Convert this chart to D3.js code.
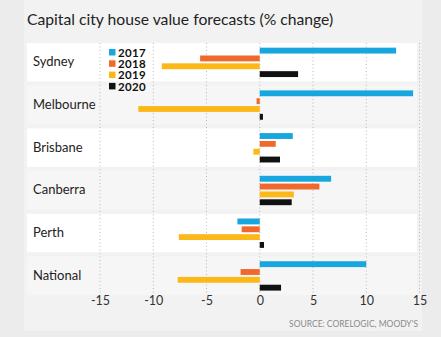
<!DOCTYPE html>
<html>
<head>
<meta charset="utf-8">
<script src="https://cdn.jsdelivr.net/npm/d3@7/dist/d3.min.js"></script>
<style>
  html, body { margin: 0; padding: 0; background: #ececec; }
  svg { display: block; }
</style>
</head>
<body>
<svg id="chart" width="441" height="337"></svg>
<script>
// Capital city house value forecasts, % change by year
const cities = ["Sydney", "Melbourne", "Brisbane", "Canberra", "Perth", "National"];
const years = ["2017", "2018", "2019", "2020"];
const v2017 = [12.8, 14.4, 3.1, 6.7, -2.1, 10.0];
const v2018 = [-5.6, -0.3, 1.5, 5.6, -1.7, -1.8];
const v2019 = [-9.2, -11.4, -0.6, 3.2, -7.6, -7.7];
const v2020 = [3.6, 0.3, 1.9, 3.0, 0.4, 2.0];
const tickValues = [-15, -10, -5, 0, 5, 10, 15];
const colors = ["#17a6de", "#f0692c", "#fbb919", "#111111"];

const seriesByYear = [v2017, v2018, v2019, v2020];
const rows = cities.map((c, i) => ({
  city: c,
  values: years.map((y, j) => ({ year: y, value: seriesByYear[j][i] }))
}));

const svg = d3.select("#chart");
const FONT = "Lato, 'Open Sans', sans-serif";

// panel
svg.append("rect").attr("x", 24).attr("y", 0).attr("width", 398).attr("height", 331)
  .attr("fill", "#f2f2f2");

const x = d3.scaleLinear().domain([-15, 15]).range([100, 419.5]);
const y = d3.scaleBand().domain(cities).range([43, 295]).paddingInner(0.1).paddingOuter(0);
const yInner = d3.scaleBand().domain(years).range([2.7, 36]).padding(0.25);

// title
svg.append("text").attr("x", 27).attr("y", 25)
  .attr("font-family", FONT).attr("font-size", 15.7)
  .attr("fill", "#222").text("Capital city house value forecasts (% change)");

// row bands
svg.append("g").selectAll("rect").data(cities).join("rect")
  .attr("x", 27).attr("width", 390)
  .attr("y", d => y(d)).attr("height", y.bandwidth())
  .attr("fill", (d, i) => i % 2 === 0 ? "#ffffff" : "#f6f6f6");

// gridlines
svg.append("g").selectAll("line").data(tickValues).join("line")
  .attr("x1", d => x(d)).attr("x2", d => x(d))
  .attr("y1", y(cities[0])).attr("y2", y(cities[cities.length - 1]) + y.bandwidth())
  .attr("stroke", "#b8b8b8").attr("stroke-width", 1).attr("stroke-dasharray", "1,2.5");

// x axis labels
const xAxis = d3.axisBottom(x).tickValues(tickValues).tickSize(0).tickPadding(0)
  .tickFormat(d => d < 0 ? "-" + Math.abs(d) : String(d));
const gx = svg.append("g").attr("transform", "translate(0,295)").call(xAxis);
gx.select(".domain").remove();
gx.selectAll("text").attr("y", 1)
  .attr("font-family", FONT).attr("font-size", 12.5).attr("fill", "#333");

// city labels
svg.append("g").selectAll("text").data(cities).join("text")
  .attr("x", 33).attr("y", d => y(d) + y.bandwidth() / 2 - 1)
  .attr("dominant-baseline", "central")
  .attr("font-family", FONT).attr("font-size", 13)
  .attr("fill", "#222").text(d => d);

// bars
const groups = svg.append("g").selectAll("g").data(rows).join("g")
  .attr("transform", d => `translate(0,${y(d.city)})`);
groups.selectAll("rect").data(d => d.values).join("rect")
  .attr("x", d => x(Math.min(0, d.value)))
  .attr("width", d => Math.abs(x(d.value) - x(0)))
  .attr("y", d => yInner(d.year))
  .attr("height", yInner.bandwidth())
  .attr("fill", (d, i) => colors[i]);

// legend: swatches plus one stacked text block
const legendStep = 11.3, legendTop = 52.5;
svg.append("g").selectAll("rect").data(years).join("rect")
  .attr("x", 109).attr("y", (d, i) => legendTop + i * legendStep - 3.5)
  .attr("width", 6.5).attr("height", 6.5)
  .attr("fill", (d, i) => colors[i]);
const legendText = svg.append("text")
  .attr("font-family", FONT).attr("font-weight", "bold")
  .attr("font-size", 11.5).attr("letter-spacing", 0.3).attr("fill", "#111");
legendText.selectAll("tspan").data(years).join("tspan")
  .attr("x", 118).attr("y", (d, i) => legendTop + i * legendStep + 4.1)
  .text(d => d);

// source
svg.append("text").attr("x", 418).attr("y", 327).attr("text-anchor", "end")
  .attr("font-family", FONT).attr("font-size", 8.5)
  .attr("fill", "#8a8a8a").text("SOURCE: CORELOGIC, MOODY'S");
</script>
</body>
</html>
